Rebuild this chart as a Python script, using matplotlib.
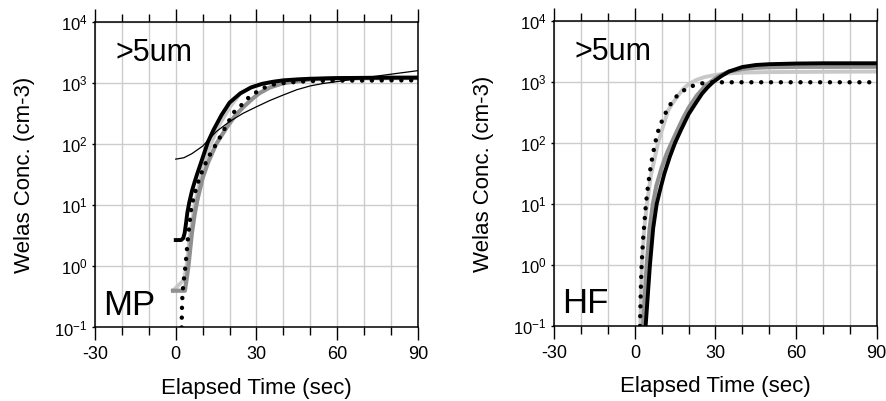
import matplotlib
matplotlib.use("Agg")
import matplotlib.pyplot as plt
from matplotlib.ticker import MultipleLocator, FixedLocator, LogFormatterSciNotation, NullLocator

plt.rcParams['font.family'] = ['Liberation Sans', 'DejaVu Sans']
plt.rcParams['mathtext.fontset'] = 'custom'
plt.rcParams['mathtext.rm'] = 'Liberation Sans'
plt.rcParams['mathtext.it'] = 'Liberation Sans'
plt.rcParams['axes.unicode_minus'] = False

# ---- MP panel data (time in sec, conc in cm-3)
mp_black_t = [0, 2, 2.8, 3.3, 3.8, 4.3, 5, 6, 7, 8, 10, 12, 14, 17, 20, 24, 28, 32, 36, 40, 45, 50, 60, 70, 80, 90]
mp_black_c = [2.7, 2.7, 2.9, 3.5, 5.0, 7.5, 11, 17, 24, 33, 60, 110, 170, 300, 480, 680, 850, 970, 1050, 1110, 1150, 1180, 1210, 1220, 1230, 1230]

mp_thin_t = [0, 3, 6, 10, 15, 20, 25, 30, 35, 40, 45, 50, 55, 60, 70, 80, 90]
mp_thin_c = [57, 60, 70, 93, 160, 235, 320, 410, 520, 640, 780, 900, 990, 1060, 1220, 1400, 1600]

mp_dot_t = [2.2, 2.3, 2.5, 3, 3.6, 4.5, 5.9, 8, 10, 12, 15, 18.6, 21.5, 24.5, 27.4, 31.3, 35, 40, 45, 50, 60, 70, 80, 90]
mp_dot_c = [0.1, 0.2, 0.36, 0.6, 1, 2.8, 10, 22, 38, 60, 100, 194, 330, 440, 600, 775, 930, 1000, 1050, 1080, 1100, 1100, 1110, 1110]

mp_light_t = [-1, 3, 4, 5, 7, 10, 13, 16, 20, 24, 28, 33, 40, 50, 60, 90]
mp_light_c = [0.4, 0.6, 1, 2.5, 10, 40, 100, 200, 400, 680, 850, 1000, 1100, 1160, 1190, 1200]

mp_gray_t = [-1, 3.4, 4, 4.7, 6, 7, 8, 10, 12, 15, 19, 22, 25, 28, 31, 35, 40, 50, 60, 70, 90]
mp_gray_c = [0.4, 0.4, 0.6, 1, 3.5, 7, 12, 28, 50, 100, 190, 290, 400, 530, 680, 850, 1000, 1150, 1200, 1210, 1220]

# ---- HF panel data
hf_dot_t = [1.9, 2.2, 2.5, 3, 4.1, 5, 6, 7.5, 9, 11.2, 13, 15, 16.8, 19, 21, 23, 25, 27, 30, 40, 50, 60, 70, 80, 90]
hf_dot_c = [0.1, 0.4, 1, 2.5, 10, 22, 45, 100, 180, 300, 420, 560, 660, 780, 860, 910, 960, 990, 1000, 1000, 1000, 1000, 1000, 1000, 1000]

hf_light_t = [2, 2.6, 3.5, 4.5, 6, 8.6, 10, 12.3, 14, 16, 18, 20, 23, 26, 30, 35, 40, 50, 90]
hf_light_c = [0.1, 1, 4, 10, 30, 100, 160, 340, 450, 600, 780, 930, 1100, 1220, 1320, 1400, 1440, 1470, 1500]

hf_gray_t = [3, 4.4, 5.5, 6.7, 8, 10, 12, 13.6, 16, 18, 20, 23, 26, 28, 31, 35, 40, 45, 50, 60, 90]
hf_gray_c = [0.1, 1, 4, 10, 20, 40, 70, 100, 170, 260, 380, 600, 850, 1000, 1250, 1500, 1650, 1730, 1770, 1790, 1800]

hf_black_t = [4, 5.6, 6.8, 8.1, 9.5, 11, 13, 14.9, 17, 20, 23, 25, 27, 29, 32, 35, 40, 45, 50, 60, 70, 90]
hf_black_c = [0.1, 1, 4, 10, 18, 32, 60, 100, 160, 300, 480, 650, 820, 1000, 1250, 1500, 1780, 1920, 1980, 2030, 2050, 2050]

LIGHT = '#c8c8c8'
GRAY = '#909090'
DOTS = (0, (0.01, 2.2))

fig = plt.figure(figsize=(8.87, 4.01), dpi=100)
ax1 = fig.add_axes([0.1071, 0.1833, 0.3641, 0.7618])
ax2 = fig.add_axes([0.6249, 0.1870, 0.3635, 0.7598])


def style(ax, tag):
    ax.set_yscale('log')
    ax.set_xlim(-30, 90)
    ax.set_ylim(0.1, 1e4)
    ax.xaxis.set_major_locator(MultipleLocator(30))
    ax.xaxis.set_minor_locator(MultipleLocator(10))
    ax.yaxis.set_major_locator(FixedLocator([0.1, 1, 10, 100, 1000, 10000]))
    ax.yaxis.set_major_formatter(LogFormatterSciNotation())
    ax.yaxis.set_minor_locator(NullLocator())
    ax.grid(True, which='both', axis='x', color='#cccccc', lw=1.0)
    ax.grid(True, which='major', axis='y', color='#cccccc', lw=1.0)
    ax.set_axisbelow(True)
    ax.tick_params(axis='x', which='major', top=True, direction='out', length=9.5, width=1.0, labelsize=13, pad=4)
    ax.tick_params(axis='x', which='minor', top=True, direction='out', length=5.5, width=1.0)
    ax.tick_params(axis='y', which='major', direction='out', length=2.5, width=1.0, labelsize=12, pad=3)
    for s in ax.spines.values():
        s.set_linewidth(1.1)
    ax.set_xlabel('Elapsed Time (sec)', fontsize=16)
    ax.set_ylabel('Welas Conc. (cm-3)', fontsize=16)
    ax.xaxis.set_label_coords(0.5, -0.165)
    ax.yaxis.set_label_coords(-0.186, 0.5)
    ax.text(0.062, 0.90, '>5um', transform=ax.transAxes, fontsize=22, va='center', ha='left')
    ax.text(0.025, 0.042, tag, transform=ax.transAxes, fontsize=25, va='baseline', ha='left')


ax1.plot(mp_light_t, mp_light_c, color=LIGHT, lw=2.8)
ax1.plot(mp_gray_t, mp_gray_c, color=GRAY, lw=3.0)
ax1.plot(mp_black_t, mp_black_c, color='black', lw=2.8)
ax1.plot(mp_thin_t, mp_thin_c, color='black', lw=0.9)
ax1.plot(mp_dot_t, mp_dot_c, color='black', lw=3.2, ls=DOTS, dash_capstyle='round')
style(ax1, 'MP')

ax2.plot(hf_light_t, hf_light_c, color=LIGHT, lw=2.8)
ax2.plot(hf_gray_t, hf_gray_c, color=GRAY, lw=3.0)
ax2.plot(hf_black_t, hf_black_c, color='black', lw=2.8)
ax2.plot(hf_dot_t, hf_dot_c, color='black', lw=3.2, ls=DOTS, dash_capstyle='round')
style(ax2, 'HF')

fig.savefig('out.png', dpi=100)
